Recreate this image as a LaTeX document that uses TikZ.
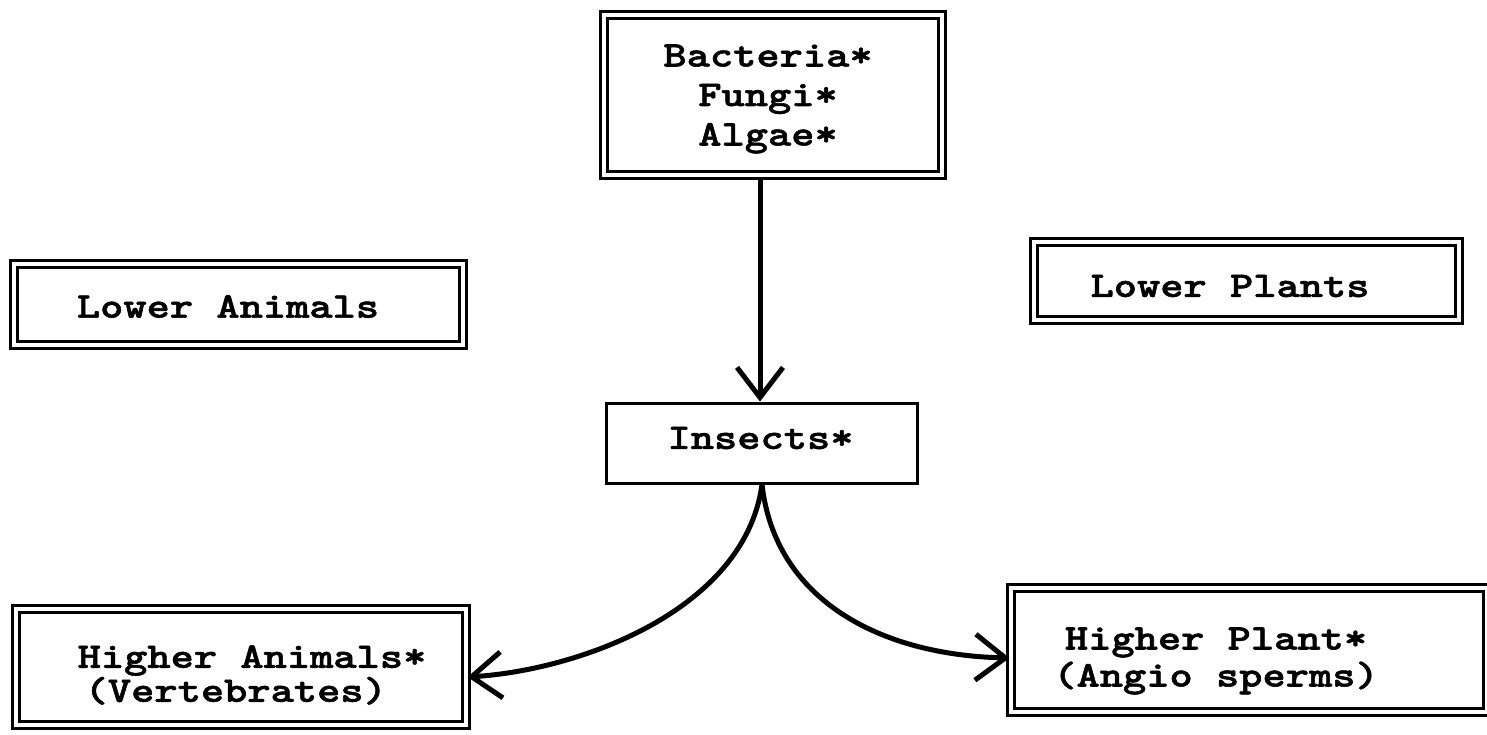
\documentclass[tikz,border=0pt]{standalone}
\usepackage{fontspec}
\newfontfamily\courf{lmmonolt10-bold}[Extension=.otf, FakeStretch=1.23, FakeBold=1.5]
\usetikzlibrary{arrows.meta,calc}
\newcommand\diafont[1]{\courf\fontsize{36}{#1}\selectfont}
\begin{document}
\begin{tikzpicture}[x=1pt,y=-1pt,
  dbox/.style={draw, line width=3pt, double, double distance=4pt, inner sep=0pt},
  sbox/.style={draw, line width=3pt, inner sep=0pt},
  lbl/.style={align=center, inner sep=0pt, font=\diafont{37}},
  arr/.style={line width=5pt, -{Straight Barb[length=30pt,width=46pt,line width=5pt]}}]
\useasboundingbox (0,0) rectangle (1487,734);
\fill[white] (0,0) rectangle (1487,734);

\node[dbox, minimum width=338pt, minimum height=160pt,
  label={[lbl, font=\diafont{39.5}, xshift=-5pt, yshift=-4pt]center:{Bacteria*\\Fungi*\\Algae*}}] (bac) at (773,95) {};
\node[dbox, minimum width=449pt, minimum height=81pt,
  label={[lbl, xshift=-10pt, yshift=-2pt]center:{Lower Animals}}] (la) at (238,304.5) {};
\node[dbox, minimum width=425pt, minimum height=78pt,
  label={[lbl, xshift=-16pt, yshift=-5pt]center:{Lower Plants}}] (lp) at (1246,281) {};
\node[sbox, minimum width=311pt, minimum height=80pt,
  label={[lbl, xshift=-1pt, yshift=5pt]center:{Insects*}}] (ins) at (761.5,443) {};
\node[dbox, minimum width=450pt, minimum height=116pt,
  label={[lbl, align=left, font=\diafont{34}, xshift=11pt, yshift=-8pt]center:{Higher Animals*\\\hspace*{7pt}(Vertebrates)}}] (ha) at (241,667) {};
\node[dbox, minimum width=476pt, minimum height=124pt,
  label={[lbl, xshift=-33pt, yshift=-11pt]center:{Higher Plant*\\(Angio sperms)}}] (hp) at (1249,650) {};

\draw[arr] ($(bac.south)+(-13,0)$) -- ($(ins.north)+(-1.5,0)$);
\draw[arr] ($(ins.south)+(0.5,0)$) .. controls +(-17,125) and +(113,-7) .. ($(ha.east)+(0,10)$);
\draw[arr] ($(ins.south)+(0.5,0)$) .. controls +(13,115) and +(-130,-3) .. ($(hp.west)+(0,8)$);
\end{tikzpicture}
\end{document}
